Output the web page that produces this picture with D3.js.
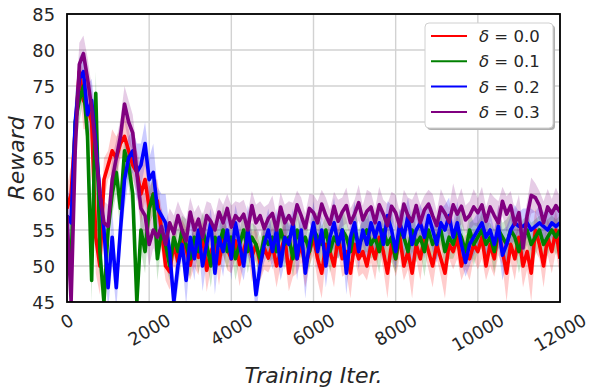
<!DOCTYPE html>
<html>
<head>
<meta charset="utf-8">
<script src="https://cdn.jsdelivr.net/npm/d3@7"></script>
<style>
  body { margin: 0; background: #fff; }
  svg { display: block; font-family: "DejaVu Sans", sans-serif; }
</style>
</head>
<body>
<div id="chart"></div>
<script>
// training iterations, one sample every 100 iters
var iters = d3.range(0, 12001, 100);

var xTicks = [0, 2000, 4000, 6000, 8000, 10000, 12000];
var yTicks = [45, 50, 55, 60, 65, 70, 75, 80, 85];
var deltas = ["0.0", "0.1", "0.2", "0.3"];

var red = [58,60,69,77,73,72,70,54,50,62,64,66,65,67,68,66,64,63,60,62,58,60,59,55,50,
  49.2,53.1,50.6,54,52.3,50.1,53.4,51.2,54.3,49.4,52,53.2,50.3,54.1,52.4,51,53.5,50.2,52.2,54.2,51.3,53,50.4,52.5,51.1,
  53,50,52,54,49,52,51,53,50,52,54,51,49,53,52,50,54,51,52,49,53,51,52,50,53,
  51,54,52,49,53,51,54,50,52,49,53,51,54,52,50,53,51,49,53,52,54,50,52,51,53,
  52,54,50,53,51,55,52,49,53,51,54,50,52,49,55,53,50,54,52,55,51];
var redSpread = [3,4,3,2,4,3,3,5,4,3,2,3,3,2,3,3,2,3,4,3,3,2,3,3,2,
  2.5,3,2,2.5,3,2,3.5,2.5,2,3,2.5,2,3,2.5,3,2,2.5,3,2,2.5,3.5,2,2.5,3,2,
  2.5,3,2,3,2.5,3.5,2,2.5,3,2,2.5,3,3.5,2,2.5,3,2,2.5,3,3.5,2,2.5,3,2,2.5,
  3,2,2.5,3.5,2,2.5,3,2,2.5,3.5,2,3,2,2.5,3,2,2.5,3.5,2,2.5,3,2,2.5,3,2,
  2.5,3,2,3,2.5,3.5,2,4,2.5,3,2,3,2.5,4,3,2,3,2.5,3,3,2.5];

var green = [54,50,70,73,75,68,48,74,52,45,55,60,63,58,66,64,60,45,55,52,58,60,51,55,53,
  50,54,52,55,53,51,54,52,55,53,50,54,53,55,52,54,51,53,55,52,54,53,51,54,53,
  54,52,55,53,54,51,55,53,54,52,55,54,53,55,52,54,53,55,54,52,55,53,54,55,53,
  54,52,55,53,54,51,55,54,52,55,53,54,52,55,53,54,55,52,54,53,55,54,52,55,53,
  54,55,53,54,52,55,54,53,55,54,52,54,55,53,54,55,53,54,55,54,55];
var greenSpread = [3,3,4,3,2,4,3,3,4,3,2,3,3,3,2,3,3,4,3,3,2,3,3,2,3,
  2,2.5,3,2,3.5,2.5,2,3,2.5,2,3,2.5,2,3.5,2.5,2,3,2,2.5,3,2,2.5,3,2,2.5,
  3,2,2.5,3.5,2,2.5,3,2,3,2.5,2,3.5,2.5,2,3,2.5,2,3,2.5,2,3.5,2,2.5,3,2,
  2.5,3,2,2.5,3.5,2,3,2.5,2,3,2.5,2,3.5,2.5,2,3,2,2.5,3,2,2.5,3.5,2,2.5,3,
  2,2.5,3,2,3,2.5,2,3.5,2.5,2,3,2.5,2,3,2.5,2,3,2.5,2,2.5,2];

var blue = [57,56,70,76,77,71,73,67,60,55,47,54,47,55,62,65,66,63,64,67,62,63,58,57,56,
  52,45,50,53,48,54,51,55,50,53,56,49,54,52,55,51,56,53,50,55,52,46,50,53,55,
  52,55,50,54,53,56,51,55,49,53,56,52,55,50,54,56,53,55,49,54,56,52,55,53,56,
  54,56,53,57,55,52,56,54,57,53,55,56,54,57,55,53,56,55,57,54,56,53,50.5,53,54,
  55,56,54,55,53,55.5,51.5,53,55,56,55.5,55.5,56,55,55.5,56,55.5,55,56,55.5,56];
var blueSpread = [4,3,4,3,3,4,3,4,3,3,3,4,3,3,4,3,3,4,3,3,3,4,3,3,4,
  3,2.5,3,2,3.5,2.5,3,2,3.5,2.5,2,3,2.5,3.5,2,3,2.5,3,2,3.5,2.5,3,2,2.5,3,
  2.5,3,2,3.5,2.5,2,3,2.5,3.5,2,3,2.5,2,3,2.5,3.5,2,2.5,3,2,3,2.5,2,3.5,2.5,
  2,3,2.5,2,3.5,2.5,2,3,2.5,3.5,2,2.5,3,2,3,2.5,2,3.5,2.5,2,3,2.5,2,3,2.5,
  2.5,2,3,2.5,2,3,3.5,2.5,2,2.5,2,2.5,2,3,2,2.5,2,2.5,2,2.5,2];

var purple = [57,45,66,78,79.5,76,72,66,60,56,55.5,62,65,68,72.5,70,68.5,63,58,57,53,55,54,55.5,53,
  56,54.5,57,55,53.5,57.5,55,56.5,54,57,56.2,55,57.5,56,58,55.4,57,56.3,57.2,55,58.4,56,57,55.2,56.6,
  57.3,55,58.2,56,57,55.8,58.5,57,55.3,58,57.4,56,58.6,57,55.8,58.3,56.2,57.5,58.4,56,57.2,58.8,56.4,57.6,58.2,
  56,58.5,57.2,55.6,58.3,57.4,55.5,58.6,57,56.2,58.4,56,57.8,58.6,57,55.6,58.2,57.3,56.1,58.5,57.2,58.3,56.4,57,58.2,
  57.4,58.5,56.2,58.2,57,56,59,57.2,58.4,55.8,57.4,52.5,57,59.8,59.5,58.4,56,58.2,57.3,58.4,57.5];
var purpleSpread = [3,4,4,3,2.5,3,3,3.5,3,3,3,3,2.5,2.5,2.5,3,2.5,3,3,3,3,2.5,3,2.5,3,
  2,2.5,2,2.5,3,2,2.5,2,3,2,2.5,2,2,2.5,2,3,2,2.5,2,2.5,2,2.5,2,3,2,
  2.5,2,2,2.5,2,3,2,2.5,2,2,2.5,3,2,2.5,2,2,3,2,2.5,2,2,2.5,2,3,2,
  2,2.5,2,3,2,2.5,2,2,2.5,3,2,2.5,2,2,3,2,2.5,2,2,3,2,2.5,2,2,2.5,
  2,2.5,2,2,2.5,3,2,2.5,2,2,2.5,3,2,2.5,2,2,3,2.5,2,2.5,2];

var series = [
  {delta: deltas[0], color: "#ff0000", mean: red, spread: redSpread},
  {delta: deltas[1], color: "#008000", mean: green, spread: greenSpread},
  {delta: deltas[2], color: "#0000ff", mean: blue, spread: blueSpread},
  {delta: deltas[3], color: "#800080", mean: purple, spread: purpleSpread}
];

var margin = {top: 14, right: 38, bottom: 90, left: 67};
var W = 598, H = 392;
var width = W - margin.left - margin.right;
var height = H - margin.top - margin.bottom;

var svg = d3.select("#chart").append("svg")
  .attr("width", W).attr("height", H);
var g = svg.append("g")
  .attr("transform", "translate(" + margin.left + "," + margin.top + ")");

var x = d3.scaleLinear().domain([0, 12000]).range([0, width]);
var y = d3.scaleLinear().domain([45, 85]).range([height, 0]);

// grid
g.append("g").selectAll("line").data(xTicks).enter().append("line")
  .attr("x1", d => x(d)).attr("x2", d => x(d))
  .attr("y1", 0).attr("y2", height)
  .attr("stroke", "#d2d2d2").attr("stroke-width", 1.4);
g.append("g").selectAll("line").data(yTicks).enter().append("line")
  .attr("x1", 0).attr("x2", width)
  .attr("y1", d => y(d)).attr("y2", d => y(d))
  .attr("stroke", "#d2d2d2").attr("stroke-width", 1.4);

svg.append("defs").append("clipPath").attr("id", "plotclip")
  .append("rect").attr("x", 0).attr("y", 0).attr("width", width).attr("height", height);

var plot = g.append("g").attr("clip-path", "url(#plotclip)");

var area = s => d3.area()
  .x((d, i) => x(iters[i]))
  .y0((d, i) => y(d - s.spread[i]))
  .y1((d, i) => y(d + s.spread[i]));
var line = d3.line()
  .x((d, i) => x(iters[i]))
  .y(d => y(d));

series.forEach(function(s) {
  plot.append("path")
    .attr("d", area(s)(s.mean))
    .attr("fill", s.color).attr("fill-opacity", 0.2).attr("stroke", "none");
});
series.forEach(function(s) {
  plot.append("path")
    .attr("d", line(s.mean))
    .attr("fill", "none").attr("stroke", s.color)
    .attr("stroke-width", 3.6).attr("stroke-linejoin", "round");
});

// frame
g.append("rect").attr("width", width).attr("height", height)
  .attr("fill", "none").attr("stroke", "#000").attr("stroke-width", 1.8);

// y tick labels
g.append("g").selectAll("text").data(yTicks).enter().append("text")
  .attr("x", -12).attr("y", d => y(d))
  .attr("text-anchor", "end").attr("dominant-baseline", "central")
  .attr("font-size", 17.8).attr("fill", "#262626")
  .text(d => d);

// x tick labels, rotated 30 deg, bbox centred on tick
var xl = g.append("g").selectAll("text").data(xTicks).enter().append("text")
  .attr("text-anchor", "middle").attr("dominant-baseline", "central")
  .attr("font-size", 17.8).attr("fill", "#262626")
  .text(d => d);
xl.each(function(d) {
  var w = this.getComputedTextLength();
  var bh = w * Math.sin(Math.PI / 6) + 17.8 * 0.8 * Math.cos(Math.PI / 6);
  d3.select(this).attr("transform",
    "translate(" + x(d) + "," + (height + 10 + bh / 2) + ") rotate(-30)");
});

// axis titles
g.append("text")
  .attr("x", width / 2).attr("y", height + 81)
  .attr("text-anchor", "middle").attr("font-size", 22)
  .attr("font-style", "italic").attr("fill", "#262626")
  .text("Training Iter.");
g.append("text")
  .attr("transform", "translate(" + (-43) + "," + (height / 2) + ") rotate(-90)")
  .attr("text-anchor", "middle").attr("font-size", 22)
  .attr("font-style", "italic").attr("fill", "#262626")
  .text("Reward");

// legend
var lg = g.append("g").attr("transform", "translate(" + (425 - margin.left) + "," + (23 - margin.top) + ")");
lg.append("rect").attr("x", 2).attr("y", 2).attr("width", 128).attr("height", 105)
  .attr("rx", 4).attr("fill", "#b0b0b0");
lg.append("rect").attr("width", 128).attr("height", 105)
  .attr("rx", 4).attr("fill", "#fff").attr("stroke", "#d0d0d0").attr("stroke-width", 1);
series.forEach(function(s, i) {
  var ly = 13 + i * 25.3;
  lg.append("line").attr("x1", 6).attr("x2", 42).attr("y1", ly).attr("y2", ly)
    .attr("stroke", s.color).attr("stroke-width", 2);
  var t = lg.append("text").attr("x", 54).attr("y", ly)
    .attr("dominant-baseline", "central").attr("font-size", 16.5).attr("fill", "#262626");
  t.append("tspan").attr("font-style", "italic").text("δ");
  t.append("tspan").text(" = " + s.delta);
});
</script>
</body>
</html>
